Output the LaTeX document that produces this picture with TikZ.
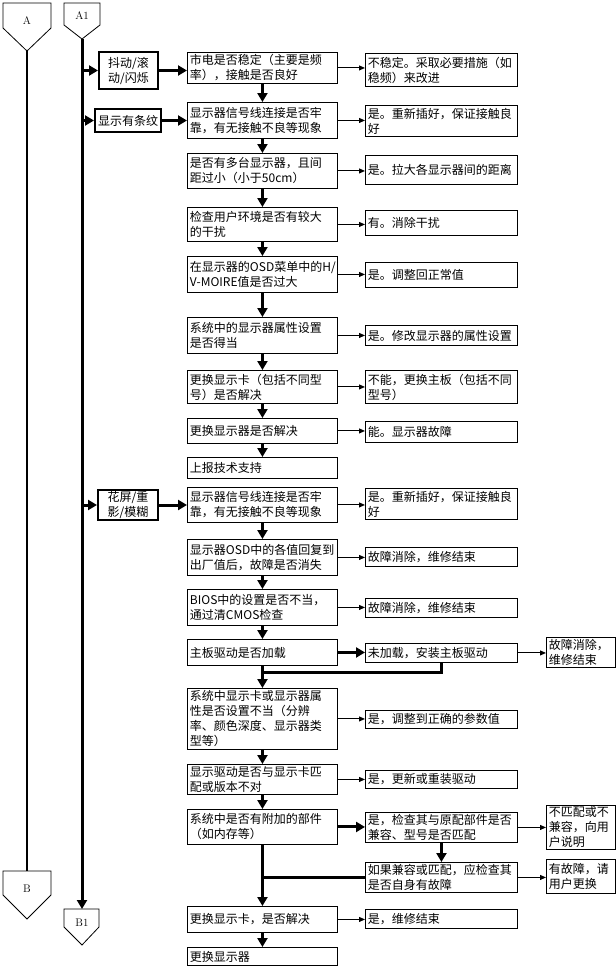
\documentclass[tikz,border=0pt]{standalone}
\usepackage{fontspec}
\newfontfamily\cjkfont{Noto Sans CJK SC}
\usetikzlibrary{arrows.meta}
\newcommand\bx[7][box]{%
  \pgfmathsetmacro\bw{#5-#3}\pgfmathsetmacro\bh{#6-#4}\pgfmathsetmacro\tw{\bw-5}%
  \node[#1, minimum width=\bw pt, minimum height=\bh pt, text width=\tw pt] (#2) at (#3,#4) {#7};}
\begin{document}
\begin{tikzpicture}[x=1pt,y=-1pt,
  box/.style={draw, line width=0.9pt, inner xsep=2.5pt, inner ysep=0pt, anchor=north west, align=left,
    font=\cjkfont\fontsize{12}{15}\selectfont},
  lbox/.style={box, line width=2pt, align=center},
  thk/.style={line width=3pt, -{Triangle[length=9pt,width=10pt]}},
  thn/.style={line width=1pt, -{Triangle[length=6pt,width=5pt]}},
  thkline/.style={line width=3pt},
  pent/.style={draw, line width=0.8pt},
  pl/.style={font=\fontsize{11}{12}\selectfont, inner sep=0pt}]
\useasboundingbox (0,0) rectangle (616,967);
% off-page connectors
\draw[pent] (3,3) -- (51,3) -- (51,28) -- (27,51) -- (3,28) -- cycle;
\draw[pent] (64,3) -- (100,3) -- (100,25) -- (82,39) -- (64,25) -- cycle;
\draw[pent] (3,871) -- (51,871) -- (51,895) -- (27,919) -- (3,895) -- cycle;
\draw[pent] (64,909) -- (99,909) -- (99,927) -- (82,945) -- (64,927) -- cycle;
\node[pl] (A) at (27,21) {A};
\node[pl] (A1) at (82,16) {A1};
\node[pl] (B) at (27,889) {B};
\node[pl] (B1) at (82,923) {B1};
\coordinate (atip) at (27,51);
\coordinate (btop) at (27,871);
\coordinate (a1tip) at (82,39);
\coordinate (b1top) at (82,909);
\draw[line width=1.6pt] (atip) -- (btop);
\draw[thk] (a1tip) -- (b1top);
% left boxes
\bx[lbox]{L1}{98}{51}{157}{88}{抖动/滚\\动/闪烁}
\bx[lbox]{L2}{94}{108}{160}{131}{显示有条纹}
\bx[lbox]{L3}{97}{489}{157}{519}{花屏/重\\影/模糊}
% main column
\bx{m1}{187}{52}{337}{83}{市电是否稳定（主要是频\\率），接触是否良好}
\bx{m2}{187}{102}{337}{138}{显示器信号线连接是否牢\\靠，有无接触不良等现象}
\bx{m3}{187}{153}{337}{188}{是否有多台显示器，且间\\距过小（小于50cm）}
\bx{m4}{187}{207}{337}{241}{检查用户环境是否有较大\\的干扰}
\bx{m5}{187}{256}{337}{292}{在显示器的OSD菜单中的H/\\V-MOIRE值是否过大}
\bx{m6}{187}{317}{337}{353}{系统中的显示器属性设置\\是否得当}
\bx{m7}{187}{370}{337}{403}{更换显示卡（包括不同型\\号）是否解决}
\bx{m8}{187}{418}{337}{443}{更换显示器是否解决}
\bx{m9}{187}{457}{337}{478}{上报技术支持}
\bx{m10}{187}{487}{337}{522}{显示器信号线连接是否牢\\靠，有无接触不良等现象}
\bx{m11}{187}{539}{337}{575}{显示器OSD中的各值回复到\\出厂值后，故障是否消失}
\bx{m12}{187}{589}{337}{625}{BIOS中的设置是否不当，\\通过清CMOS检查}
\bx{m13}{187}{639}{337}{665}{主板驱动是否加载}
\bx{m14}{187}{688}{337}{749}{系统中显示卡或显示器属\\性是否设置不当（分辨\\率、颜色深度、显示器类\\型等）}
\bx{m15}{187}{764}{337}{794}{显示驱动是否与显示卡匹\\配或版本不对}
\bx{m16}{187}{809}{337}{844}{系统中是否有附加的部件\\（如内存等）}
\bx{m17}{187}{906}{337}{932}{更换显示卡，是否解决}
\bx{m18}{187}{947}{337}{965}{更换显示器}
% right column
\bx{r1}{365}{53}{517}{86}{不稳定。采取必要措施（如\\稳频）来改进}
\bx{r2}{365}{105}{517}{136}{是。重新插好，保证接触良\\好}
\bx{r3}{365}{155}{517}{184}{是。拉大各显示器间的距离}
\bx{r4}{365}{210}{517}{235}{有。消除干扰}
\bx{r5}{365}{262}{517}{287}{是。调整回正常值}
\bx{r6}{365}{325}{517}{345}{是。修改显示器的属性设置}
\bx{r7}{365}{370}{517}{403}{不能，更换主板（包括不同\\型号）}
\bx{r8}{365}{421}{517}{442}{能。显示器故障}
\bx{r10}{365}{488}{517}{519}{是。重新插好，保证接触良\\好}
\bx{r11}{365}{547}{517}{566}{故障消除，维修结束}
\bx{r12}{365}{598}{517}{617}{故障消除，维修结束}
\bx{r13}{365}{643}{517}{662}{未加载，安装主板驱动}
\bx{r14}{365}{710}{517}{728}{是，调整到正确的参数值}
\bx{r15}{365}{770}{517}{788}{是，更新或重装驱动}
\bx{r16}{365}{812}{517}{842}{是，检查其与原配部件是否\\兼容、型号是否匹配}
\bx{r17}{365}{862}{517}{892}{如果兼容或匹配，应检查其\\是否自身有故障}
\bx{r18}{365}{909}{517}{928}{是，维修结束}
% far right
\bx{f1}{546}{637}{615}{667}{故障消除，\\维修结束}
\bx{f2}{546}{805}{615}{849}{不匹配或不\\兼容，向用\\户说明}
\bx{f3}{546}{859}{615}{893}{有故障，请\\用户更换}
% branches from A1
\foreach \n/\m in {L1/m1, L2/m2, L3/m10}{
  \draw[thk] (\n.west -| a1tip) -- (\n.west);
  \draw[thk] (\n.east) -- (\n.east -| \m.west);
}
% main vertical flow
\foreach \a/\b in {m1/m2, m2/m3, m3/m4, m4/m5, m5/m6, m6/m7, m7/m8, m8/m9,
                   m10/m11, m11/m12, m12/m13, m13/m14, m14/m15, m15/m16, m16/m17, m17/m18}{
  \draw[thk] (\a.south) -- (\b.north);
}
% thin side arrows
\foreach \a/\b in {m1/r1, m2/r2, m3/r3, m4/r4, m5/r5, m6/r6, m7/r7, m8/r8,
                   m10/r10, m11/r11, m12/r12, m14/r14, m15/r15, m17/r18,
                   r13/f1, r16/f2, r17/f3}{
  \draw[thn] (\a.east) -- (\a.east -| \b.west);
}
% thick side arrows
\draw[thk] (m13.east) -- (m13.east -| r13.west);
\draw[thk] (m16.east) -- (m16.east -| r16.west);
\draw[thk] (r16.south) -- (r17.north);
% joins back to the main line
\coordinate (j1) at ([yshift=-7pt]m13.south);
\draw[thkline] (r13.south) |- (j1);
\draw[thkline] (r17.west) -- (r17.west -| m16.south);
\end{tikzpicture}
\end{document}
